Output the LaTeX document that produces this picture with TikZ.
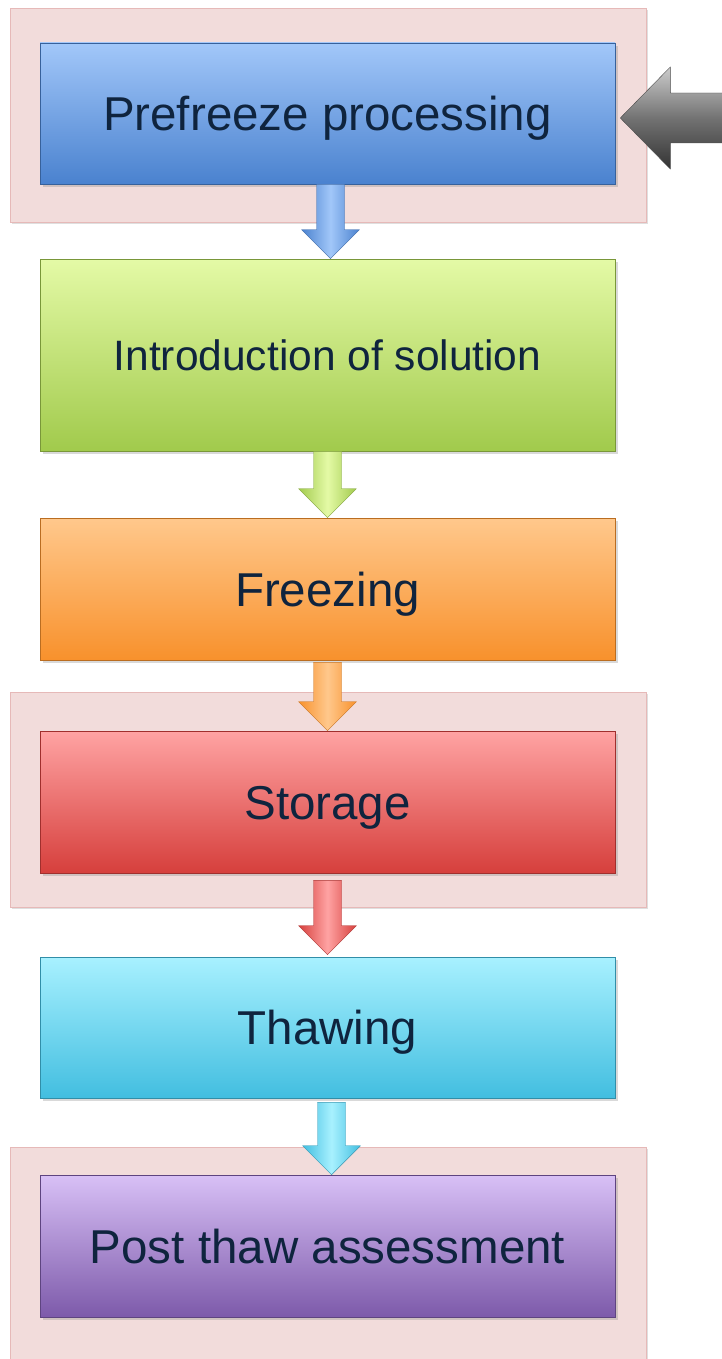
\documentclass[tikz,border=0pt]{standalone}
\usepackage{fontspec}
\setmainfont{Liberation Sans}
\usetikzlibrary{calc,shadows}
\definecolor{txt}{HTML}{0F243E}
\definecolor{framefill}{HTML}{F2DCDB}
\definecolor{frameline}{HTML}{E6B9B8}
\definecolor{bluetop}{HTML}{A2C7F9}
\definecolor{bluebot}{HTML}{4A82CF}
\definecolor{greentop}{HTML}{E4FAA6}
\definecolor{greenbot}{HTML}{A1CA4C}
\definecolor{orangetop}{HTML}{FFC88C}
\definecolor{orangebot}{HTML}{F8912C}
\definecolor{redtop}{HTML}{FFA3A3}
\definecolor{redbot}{HTML}{D63F3C}
\definecolor{cyantop}{HTML}{A8F1FF}
\definecolor{cyanbot}{HTML}{42BEE0}
\definecolor{purpletop}{HTML}{D8C0F6}
\definecolor{purplebot}{HTML}{7D5AAA}
\begin{document}
\begin{tikzpicture}[x=1pt,y=-1pt,
  frame/.style={rectangle, fill=framefill, draw=frameline, line width=0.8pt,
    inner sep=0pt, minimum width=636pt,
    drop shadow={shadow xshift=2pt, shadow yshift=-2pt, opacity=0.25}},
  stage/.style 2 args={rectangle, inner sep=0pt, minimum width=575pt,
    top color=#1, bottom color=#2, draw=#2!75!black, line width=0.6pt,
    text=txt, font=\fontsize{47.5}{57}\selectfont, text height=34pt, text depth=0pt,
    drop shadow={shadow xshift=3pt, shadow yshift=-3pt, opacity=0.3}},
  downarrow/.style 2 args={left color=#2, right color=#2, middle color=#1,
    draw=#2!80!black, line width=0.4pt,
    to path={let \p1=(\tikztostart), \p2=(\tikztotarget) in
      (\x1-14pt,\y1) -- (\x1+14pt,\y1) -- (\x1+14pt,\y2+29pt)
      -- (\x1+29pt,\y2+29pt) -- (\x1,\y2) -- (\x1-29pt,\y2+29pt)
      -- (\x1-14pt,\y2+29pt) -- cycle}},
  leftarrow/.style={top color=black!20, bottom color=black!80, middle color=black!55,
    draw=black!70, line width=0.4pt,
    to path={let \p1=(\tikztostart), \p2=(\tikztotarget) in
      (\x1,\y1+25pt) -- (\x2+50pt,\y1+25pt) -- (\x2+50pt,\y1+51pt)
      -- (\x2,\y1) -- (\x2+50pt,\y1-51pt) -- (\x2+50pt,\y1-25pt)
      -- (\x1,\y1-25pt) -- cycle}}]
\useasboundingbox (0,0) rectangle (721,1359);
% frames
\node[frame, minimum height=214pt] (f1) at (328, 115) {};
\node[frame, minimum height=215pt] (f2) at (328, 799.5) {};
\node[frame, minimum height=230pt] (f3) at (328, 1262) {};
% stages
\node[stage={bluetop}{bluebot}, minimum height=141pt] (b1) at (327.5, 113.5) {Prefreeze processing};
\node[stage={greentop}{greenbot}, minimum height=192pt,
  font=\fontsize{42.5}{51}\selectfont, text height=30.5pt] (b2) at (327.5, 355) {Introduction of solution};
\node[stage={orangetop}{orangebot}, minimum height=142pt] (b3) at (327.5, 589) {Freezing};
\node[stage={redtop}{redbot}, minimum height=142pt] (b4) at (327.5, 802) {Storage};
\node[stage={cyantop}{cyanbot}, minimum height=141pt] (b5) at (327.5, 1027.5) {Thawing};
\node[stage={purpletop}{purplebot}, minimum height=142pt] (b6) at (327.5, 1246) {Post thaw assessment};
\coordinate (src) at (730, 118);
% arrows
\draw[downarrow={bluetop}{bluebot}]     ([xshift=3pt]b1.south) to ([xshift=3pt]b2.north);
\draw[downarrow={greentop}{greenbot}]   (b2.south) to (b3.north);
\draw[downarrow={orangetop}{orangebot}] ([yshift=-2pt]b3.south) to (b4.north);
\draw[downarrow={redtop}{redbot}]       ([yshift=-7pt]b4.south) to ([yshift=2pt]b5.north);
\draw[downarrow={cyantop}{cyanbot}]     ([xshift=4pt,yshift=-4pt]b5.south) to ([xshift=4pt]b6.north);
\draw[leftarrow] (src) to ([xshift=5pt]b1.east);
\end{tikzpicture}
\end{document}
